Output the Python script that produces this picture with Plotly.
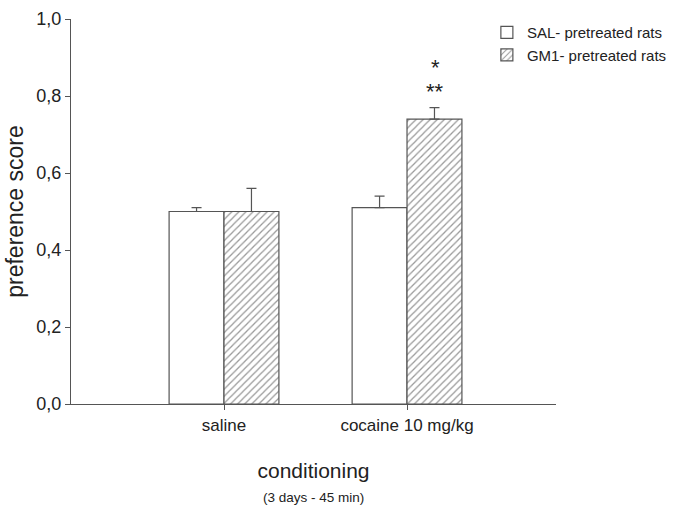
import plotly.graph_objects as go

categories = ["saline", "cocaine 10 mg/kg"]
sal_values = [0.50, 0.51]
sal_errors = [0.01, 0.03]
gm1_values = [0.50, 0.74]
gm1_errors = [0.06, 0.03]
y_ticks = [0.0, 0.2, 0.4, 0.6, 0.8, 1.0]

line_col = "#555555"
text_col = "#222222"
font_fam = "Liberation Sans, Arial, sans-serif"

fig = go.Figure()
fig.add_trace(go.Bar(
    x=categories, y=sal_values, name="SAL- pretreated rats",
    marker=dict(color="white", line=dict(color=line_col, width=1.2)),
    error_y=dict(type="data", array=sal_errors, arrayminus=[0, 0], symmetric=False,
                 color=line_col, thickness=1.2, width=5),
))
fig.add_trace(go.Bar(
    x=categories, y=gm1_values, name="GM1- pretreated rats",
    marker=dict(color="white", line=dict(color=line_col, width=1.2),
                pattern=dict(shape="/", fgcolor="#333333", bgcolor="white", size=5, solidity=0.25)),
    error_y=dict(type="data", array=gm1_errors, arrayminus=[0, 0], symmetric=False,
                 color=line_col, thickness=1.2, width=5),
))

# significance marks above the GM1 cocaine bar
top = gm1_values[1] + gm1_errors[1]
fig.add_annotation(x=categories[1], y=top, xshift=28, yshift=16, text="**",
                   showarrow=False, font=dict(size=22, color=text_col, family=font_fam), yanchor="middle")
fig.add_annotation(x=categories[1], y=top, xshift=28, yshift=40, text="*",
                   showarrow=False, font=dict(size=22, color=text_col, family=font_fam), yanchor="middle")

# subtitle under the x-axis title
fig.add_annotation(xref="paper", yref="paper", x=0.5, y=0, yshift=-93, text="(3 days - 45 min)",
                   showarrow=False, font=dict(size=13.5, color=text_col, family=font_fam),
                   yanchor="middle", xanchor="center")

fig.update_layout(
    width=680, height=506,
    margin=dict(l=71, r=124, t=19, b=102, autoexpand=False),
    paper_bgcolor="white", plot_bgcolor="white",
    barmode="group", bargap=0.4, bargroupgap=0,
    separators=",.",
    font=dict(family=font_fam, color=text_col),
    showlegend=True,
    legend=dict(xref="container", yref="container", x=0.716, xanchor="left", y=0.968, yanchor="top",
                font=dict(size=15, color=text_col), bgcolor="rgba(0,0,0,0)",
                tracegroupgap=0, itemwidth=30),
)
fig.update_xaxes(
    range=[-0.836, 1.814], showline=True, linecolor=line_col, linewidth=1.2,
    ticks="outside", ticklen=5, tickcolor=line_col, showgrid=False, zeroline=False,
    tickfont=dict(size=17, color=text_col),
    title=dict(text="conditioning", font=dict(size=21, color=text_col), standoff=29),
)
fig.update_yaxes(
    range=[0, 1.0], tickvals=y_ticks, tickformat=".1f", showline=True, linecolor=line_col,
    linewidth=1.2, ticks="outside", ticklen=5, tickcolor=line_col, showgrid=False, zeroline=False,
    tickfont=dict(size=18, color=text_col),
    title=dict(text="preference score", font=dict(size=23, color=text_col), standoff=6),
)

fig.write_html("out.html", config={"displayModeBar": False},
               post_script="document.body.style.margin='0';")
